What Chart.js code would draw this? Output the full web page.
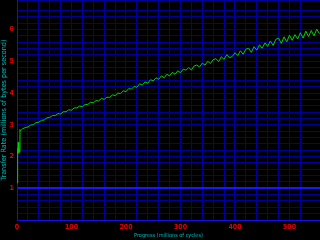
<!DOCTYPE html>
<html><head><meta charset="utf-8">
<style>html,body{margin:0;padding:0;background:#000;}canvas{display:block;background:#000;}</style>
<script src="https://cdn.jsdelivr.net/npm/chart.js@4/dist/chart.umd.min.js"></script>
</head><body>
<canvas id="c" width="320" height="240"></canvas>
<script>
const xAxisTitle = "Progress (millions of cycles)";
const yAxisTitle = "Transfer Rate (millions of bytes per second)";
const xTickLabels = [0,100,200,300,400,500];
const yTickLabels = [1,2,3,4,5,6];
const progress = [0,0.6,1.2,1.8,2.4,3.0,3.6,4.5,5.5,6.5,8,
 10,15,20,25,30,35,40,45,50,55,60,65,70,75,80,85,90,95,100,105,110,115,120,125,130,135,140,145,150,155,160,165,170,175,180,185,190,195,200,
 205,210,215,220,225,230,235,240,245,250,255,260,265,270,275,280,285,290,295,300,305,310,315,320,325,330,335,340,345,350,355,360,365,370,375,380,385,390,395,400,
 405,410,415,420,425,430,435,440,445,450,455,460,465,470,475,480,485,490,495,500,505,510,515,520,525,530,535,540,545,550,555];
const rate = [1.17,2.25,1.4,2.1,2.45,2.1,2.3,2.15,2.85,2.82,2.84,
 2.87,2.91,2.93,2.99,3.00,3.07,3.08,3.14,3.15,3.22,3.23,3.29,3.29,3.35,3.34,3.41,3.41,3.47,3.46,3.53,3.53,3.59,3.57,3.64,3.64,3.71,3.69,3.76,3.75,3.83,3.80,3.87,3.86,3.94,3.92,4.00,3.98,4.07,4.04,
 4.14,4.12,4.21,4.18,4.29,4.25,4.35,4.31,4.42,4.38,4.48,4.43,4.54,4.48,4.59,4.54,4.65,4.59,4.70,4.64,4.75,4.72,4.80,4.73,4.85,4.88,4.82,4.94,4.88,5.00,4.93,5.05,5.08,4.99,5.14,5.06,5.21,5.11,5.15,5.27,
 5.18,5.33,5.22,5.38,5.41,5.28,5.46,5.35,5.52,5.41,5.58,5.47,5.64,5.50,5.69,5.73,5.56,5.77,5.61,5.82,5.66,5.84,5.70,5.90,5.73,5.95,5.78,5.97,5.80,6.01,5.87];

const points = progress.map((p,i)=>({x:p,y:rate[i]}));
const fam = "'Liberation Sans Narrow','DejaVu Sans Condensed','DejaVu Sans'";
const tickFont = {family:fam, size:7, weight:'bold'};
const gridBlue = '#000098';
new Chart(document.getElementById('c'), {
  type:'line',
  data:{datasets:[{data:points,borderColor:'#00d000',borderWidth:1,pointRadius:0,tension:0,fill:false}]},
  options:{
    responsive:false, animation:false,
    layout:{padding:0},
    plugins:{legend:{display:false},tooltip:{enabled:false}},
    scales:{
      x:{type:'linear',min:0,max:556,
        afterFit:s=>{s.height=20;s.paddingLeft=0;s.paddingRight=0;},
        ticks:{stepSize:20,autoSkip:false,maxRotation:0,color:'#e00000',font:tickFont,padding:3,
          callback:v=>xTickLabels.includes(v)?String(v):''},
        grid:{color:gridBlue,lineWidth:1,drawTicks:false},
        border:{color:'#1010e0',width:1},
        title:{display:true,text:xAxisTitle,color:'#00b8b8',font:{family:fam,size:5.5},padding:{top:0,bottom:1}}
      },
      y:{min:0,max:6.93,
        afterFit:s=>{s.width=17;s.paddingTop=0;s.paddingBottom=0;},
        ticks:{stepSize:0.2,autoSkip:false,color:'#e00000',font:tickFont,padding:3,
          callback:v=>{const r=Math.round(v);return (Math.abs(v-r)<1e-6 && yTickLabels.includes(r))?String(r):'';}},
        grid:{color:c=>Math.abs(c.tick.value-1)<1e-6?'#1818ff':gridBlue,lineWidth:c=>Math.abs(c.tick.value-1)<1e-6?2:1,drawTicks:false},
        border:{color:'#1010e0',width:1},
        title:{display:true,text:yAxisTitle,color:'#00b8b8',font:{family:fam,size:7.2},padding:{top:0,bottom:0}}
      }
    }
  }
});
</script>
</body></html>
